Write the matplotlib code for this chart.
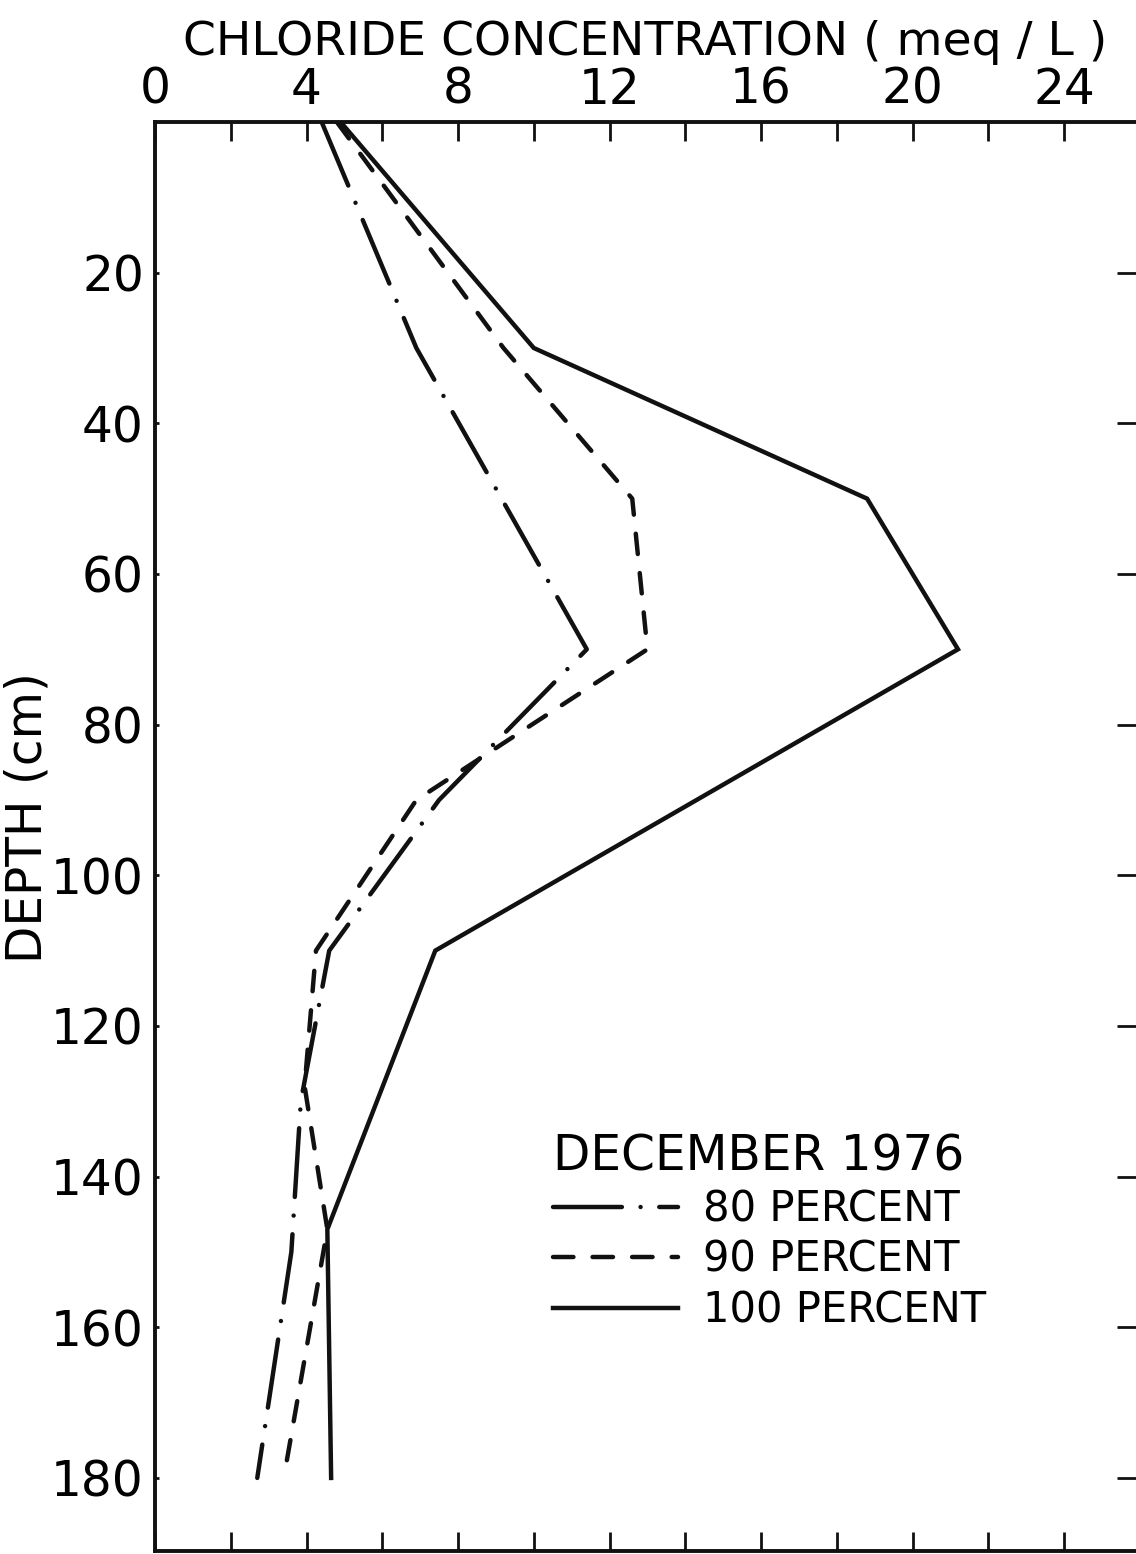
import numpy as np
import matplotlib.pyplot as plt

plt.rcParams['font.family'] = ['DejaVu Sans']

# chloride profiles, December 1976 (depth in cm, chloride in meq/L)
depth_80 = [0, 30, 70, 90, 110, 130, 150, 180]
cl_80 = [4.4, 6.9, 11.4, 7.5, 4.6, 3.85, 3.6, 2.7]

depth_90 = [0, 30, 50, 70, 90, 110, 128, 147, 180]
cl_90 = [4.8, 9.2, 12.6, 13.0, 6.9, 4.25, 3.95, 4.55, 3.4]

depth_100 = [0, 30, 50, 70, 110, 147, 180]
cl_100 = [4.9, 10.0, 18.8, 21.2, 7.4, 4.55, 4.65]

labels = ['80 PERCENT', '90 PERCENT', '100 PERCENT']
x_ticks = np.arange(0, 26, 4)
y_ticks = np.arange(20, 181, 20)

W, H = 1136, 1554
fig = plt.figure(figsize=(W / 100, H / 100), dpi=100)
ax = fig.add_axes([155 / W, 3 / H, (W - 155) / W, (1551 - 122) / H])

lw = 3.2
ink = '#111111'
l80, = ax.plot(cl_80, depth_80, color=ink, lw=lw, dashes=(15.5, 4.2, 0.01, 4.2),
               dash_capstyle='round', solid_joinstyle='miter')
l90, = ax.plot(cl_90, depth_90, color=ink, lw=lw, dashes=(4.6, 4.3),
               dash_capstyle='round')
l100, = ax.plot(cl_100, depth_100, color=ink, lw=lw, solid_joinstyle='miter')

ax.set_xlim(0, 25.9)
ax.set_ylim(189.7, 0)

# concentration axis on top, ticks every 2 pointing inward
ax.xaxis.tick_top()
ax.set_xticks(x_ticks)
ax.set_xticklabels([str(v) for v in x_ticks])
ax.set_xticks(np.arange(0, 26, 2), minor=True)
ax.tick_params(axis='x', which='both', direction='in', top=True, bottom=True,
               labeltop=True, labelbottom=False, length=14, width=2, color=ink)
ax.tick_params(axis='x', which='major', labelsize=35, pad=6)
ax.xaxis.set_label_position('top')
ax.set_xlabel('CHLORIDE CONCENTRATION ( meq / L )', fontsize=34, labelpad=8)

ax.set_yticks(y_ticks)
ax.set_yticklabels([str(v) for v in y_ticks])
ax.tick_params(axis='y', direction='in', left=True, right=False, length=3,
               width=2, labelsize=35, pad=8, color=ink)
ax.set_ylabel('DEPTH (cm)', fontsize=35)
ax.yaxis.set_label_coords(-0.105, 0.513)

right = ax.secondary_yaxis('right')
right.set_yticks(y_ticks)
right.tick_params(direction='in', length=14, width=2, labelright=False, color=ink)
right.spines['right'].set_visible(False)

for side in ['left', 'top', 'bottom']:
    ax.spines[side].set_linewidth(2.8)
    ax.spines[side].set_color(ink)
ax.spines['right'].set_visible(False)

leg = ax.legend([l80, l90, l100], labels, title='DECEMBER 1976',
                loc='upper left', bbox_to_anchor=(0.406, 0.293),
                frameon=False, fontsize=30, title_fontsize=35,
                handlelength=3.0, handletextpad=0.6, labelspacing=0.2,
                borderpad=0, borderaxespad=0, alignment='left')

fig.savefig('out.png', dpi=100)
